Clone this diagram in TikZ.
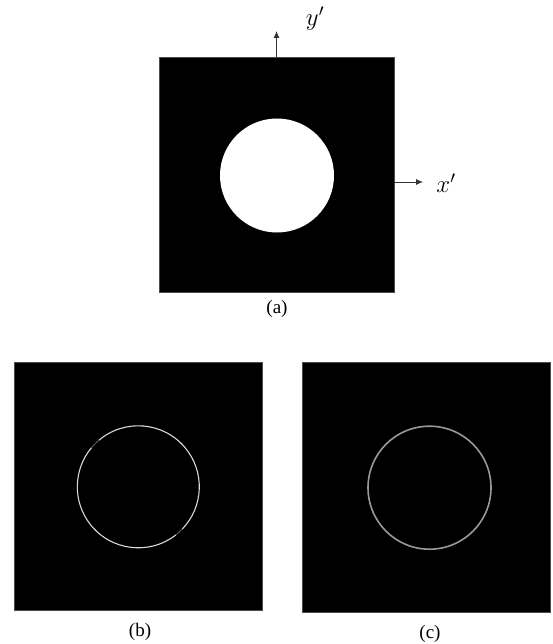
\documentclass[tikz,border=0pt]{standalone}
\usepackage{fontspec}
\setmainfont{Liberation Serif}
\usetikzlibrary{arrows.meta}
\begin{document}
\begin{tikzpicture}[x=1pt,y=-1pt,
  panel/.style={fill=black,draw=black!70,line width=0.4pt,inner sep=0pt,outer sep=0pt},
  axis/.style={draw=black!80,line width=0.8pt,-{Latex[length=7pt,width=6pt]}},
  captext/.style={font=\fontsize{19}{22}\selectfont,inner sep=0pt},
  axlabel/.style={font=\fontsize{25}{30}\selectfont,inner sep=0pt}]
\useasboundingbox (0,0) rectangle (552,644);
% panel (a)
\node[panel,minimum width=235pt,minimum height=235pt] (pa) at (276.5,174.5) {};
\fill[white] (277,175.5) circle (57);
\coordinate (ytip) at (276.5,31);
\coordinate (xtip) at (423,182);
\draw[axis] (pa.north -| ytip) -- (ytip);
\draw[axis] (pa.east |- xtip) -- (xtip);
\node[axlabel] (yl) at (315,19) {$y'$};
\node[axlabel] (xl) at (446,183) {$x'$};
\node[captext] (ca) at (277,309) {(a)};
% panel (b)
\node[panel,minimum width=248pt,minimum height=248pt] (pb) at (138,486) {};
\draw[white!85!black,line width=1.1pt] (138.3,486.8) ++(52:61) arc (52:220:61);
\draw[white!85!black,line width=1.1pt] (138.3,486.8) ++(230:61) arc (230:404:61);
\draw[white!40!black,line width=0.8pt] (138.3,486.8) ++(44:61) arc (44:52:61);
\draw[white!40!black,line width=0.8pt] (138.3,486.8) ++(220:61) arc (220:230:61);
\node[captext] (cb) at (140,632) {(b)};
% panel (c)
\node[panel,minimum width=248pt,minimum height=250pt] (pc) at (426.5,487) {};
\draw[white!60!black,line width=1.6pt] (429.5,487.7) circle (61.5);
\node[captext] (cc) at (430,634) {(c)};
\end{tikzpicture}
\end{document}
